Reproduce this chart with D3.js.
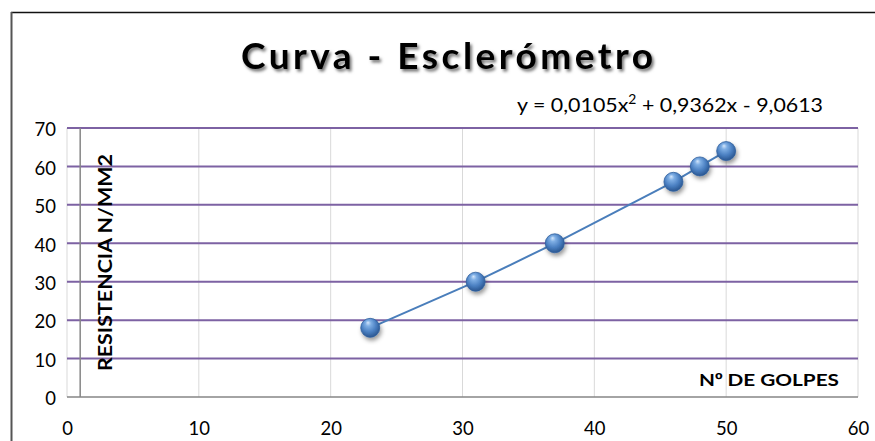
<!DOCTYPE html>
<html>
<head>
<meta charset="utf-8">
<script src="https://cdn.jsdelivr.net/npm/d3@7"></script>
<style>
  html, body { margin: 0; padding: 0; background: #fff; }
  svg { display: block; }
  text { font-family: Lato, "Open Sans", "Liberation Sans", sans-serif; }
</style>
</head>
<body>
<svg id="chart" width="875" height="441"></svg>
<script>
// Data: number of rebound hammer blows vs. resulting strength
const golpes = [23, 31, 37, 46, 48, 50];
const resistencia = [18, 30, 40, 56, 60, 64];
const xTicks = [0, 10, 20, 30, 40, 50, 60];
const yTicks = [0, 10, 20, 30, 40, 50, 60, 70];
const chartTitle = "Curva - Esclerómetro";
const xTitleParts = ["N", "º", " DE GOLPES"];
const yTitle = "RESISTENCIA N/MM2";
const yAxisCross = 1;

const svg = d3.select("#chart");
const W = 875, H = 441;

const x = d3.scaleLinear().domain([0, 60]).range([67, 858]);
const y = d3.scaleLinear().domain([0, 70]).range([397, 128]);

const defs = svg.append("defs");

// Shadow under the title
const tf = defs.append("filter").attr("id", "titleShadow")
  .attr("x", "-10%").attr("y", "-30%").attr("width", "120%").attr("height", "160%");
tf.append("feDropShadow").attr("dx", 2).attr("dy", 2.5)
  .attr("stdDeviation", 1.8).attr("flood-color", "#000").attr("flood-opacity", 0.55);

// Shadow under the markers
const mf = defs.append("filter").attr("id", "markerShadow")
  .attr("x", "-60%").attr("y", "-60%").attr("width", "220%").attr("height", "220%");
mf.append("feDropShadow").attr("dx", 1.5).attr("dy", 3)
  .attr("stdDeviation", 2.2).attr("flood-color", "#000").attr("flood-opacity", 0.4);

// Glossy sphere fill for the markers
const rg = defs.append("radialGradient").attr("id", "sphere")
  .attr("cx", "45%").attr("cy", "40%").attr("r", "60%")
  .attr("fx", "38%").attr("fy", "22%");
rg.append("stop").attr("offset", "0%").attr("stop-color", "#d4e6fb");
rg.append("stop").attr("offset", "25%").attr("stop-color", "#7eaee4");
rg.append("stop").attr("offset", "65%").attr("stop-color", "#4a7fc1");
rg.append("stop").attr("offset", "100%").attr("stop-color", "#2a5690");

// Background and outer frame
svg.append("rect").attr("width", W).attr("height", H).attr("fill", "#fff");
svg.append("line").attr("x1", 11).attr("x2", W).attr("y1", 12.5).attr("y2", 12.5)
  .attr("stroke", "#111").attr("stroke-width", 1.5);
svg.append("line").attr("x1", 11.5).attr("x2", 11.5).attr("y1", 12).attr("y2", H)
  .attr("stroke", "#555").attr("stroke-width", 2);

// Vertical gridlines
svg.append("g").selectAll("line").data(xTicks).join("line")
  .attr("x1", d => x(d)).attr("x2", d => x(d))
  .attr("y1", y(70)).attr("y2", y(0))
  .attr("stroke", "#d9d9d9").attr("stroke-width", 1);

// Horizontal gridlines
svg.append("g").selectAll("line").data(yTicks.filter(d => d > 0)).join("line")
  .attr("x1", x(0)).attr("x2", x(60))
  .attr("y1", d => y(d)).attr("y2", d => y(d))
  .attr("stroke", "#7d62a3").attr("stroke-width", 2);

// Axis lines
svg.append("line").attr("x1", x(0)).attr("x2", x(60)).attr("y1", y(0)).attr("y2", y(0))
  .attr("stroke", "#868686").attr("stroke-width", 1.5);
svg.append("line").attr("x1", x(yAxisCross)).attr("x2", x(yAxisCross))
  .attr("y1", y(70)).attr("y2", y(0))
  .attr("stroke", "#868686").attr("stroke-width", 1.5);

// Tick labels
const gx = svg.append("g").attr("transform", `translate(0,${y(0)})`)
  .call(d3.axisBottom(x).tickValues(xTicks).tickSize(0).tickFormat(d3.format("d")));
gx.select(".domain").remove();
gx.selectAll("text").attr("y", 38).attr("dy", null)
  .attr("font-size", 18.5).attr("fill", "#000")
  .style("font-family", "Lato, 'Open Sans', sans-serif");

const gy = svg.append("g").attr("transform", `translate(${x(0)},0)`)
  .call(d3.axisLeft(y).tickValues(yTicks).tickSize(0).tickPadding(11).tickFormat(d3.format("d")));
gy.select(".domain").remove();
gy.selectAll("text").attr("font-size", 18.5).attr("fill", "#000").attr("dy", "0.42em")
  .style("font-family", "Lato, 'Open Sans', sans-serif");

// Axis titles
const xt = svg.append("text").attr("x", 839).attr("y", 386).attr("text-anchor", "end")
  .attr("font-size", 17.5).attr("font-weight", "bold").attr("fill", "#000")
  .attr("textLength", 140).attr("lengthAdjust", "spacingAndGlyphs");
xt.append("tspan").text(xTitleParts[0]);
xt.append("tspan").style("font-family", "'Liberation Sans', sans-serif").text(xTitleParts[1]);
xt.append("tspan").text(xTitleParts[2]);

svg.append("text")
  .attr("transform", `translate(112,371) rotate(-90)`)
  .attr("font-size", 18).attr("font-weight", "bold").attr("fill", "#000")
  .attr("textLength", 217).attr("lengthAdjust", "spacingAndGlyphs")
  .text(yTitle);

// Title
svg.append("text").attr("x", 241).attr("y", 69)
  .attr("font-size", 37).attr("font-weight", "bold").attr("fill", "#000")
  .attr("textLength", 412).attr("lengthAdjust", "spacing")
  .attr("filter", "url(#titleShadow)")
  .text(chartTitle);

// Trendline equation
const eq = svg.append("text").attr("x", 517).attr("y", 112)
  .attr("font-size", 20).attr("fill", "#000")
  .attr("textLength", 306).attr("lengthAdjust", "spacingAndGlyphs");
eq.append("tspan").text("y = 0,0105x");
eq.append("tspan").attr("dy", -8).attr("font-size", 13).text("2");
eq.append("tspan").attr("dy", 8).text(" + 0,9362x - 9,0613");

// Series line
const pts = golpes.map((g, i) => [g, resistencia[i]]);
svg.append("path").datum(pts)
  .attr("d", d3.line().x(d => x(d[0])).y(d => y(d[1])))
  .attr("fill", "none").attr("stroke", "#4a7ebb").attr("stroke-width", 2);

// Markers
svg.append("g").selectAll("circle").data(pts).join("circle")
  .attr("cx", d => x(d[0])).attr("cy", d => y(d[1])).attr("r", 9.5)
  .attr("fill", "url(#sphere)")
  .attr("stroke", "#2f5f9e").attr("stroke-width", 0.8)
  .attr("filter", "url(#markerShadow)");
</script>
</body>
</html>
